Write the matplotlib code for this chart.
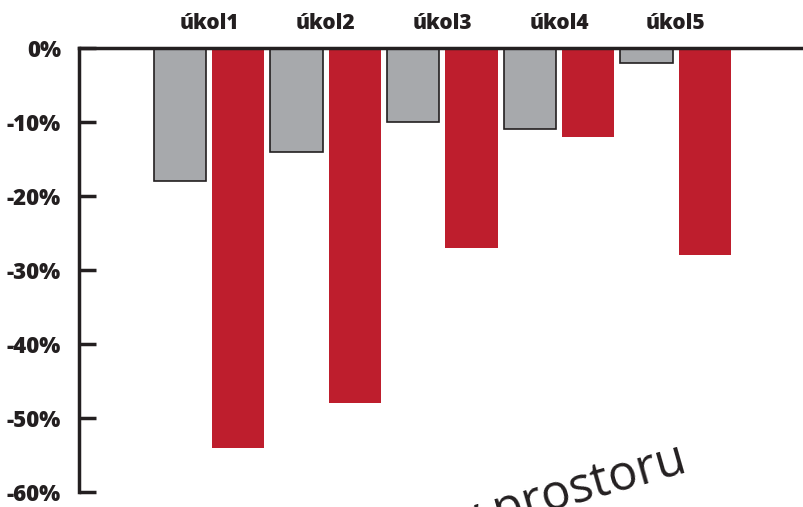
import matplotlib
matplotlib.use('Agg')
import matplotlib.pyplot as plt
import numpy as np

# hodnoty (v %)
ukoly = ['úkol1', 'úkol2', 'úkol3', 'úkol4', 'úkol5']
seda = [-18, -14, -10, -11, -2]
cervena = [-54, -48, -27, -12, -28]
y_ticky = [0, -10, -20, -30, -40, -50, -60]

tmava = '#231f20'
plt.rcParams['font.family'] = ['Open Sans', 'DejaVu Sans']

fig = plt.figure(figsize=(8.04, 5.07), dpi=100)
ax = fig.add_axes([79 / 804, 15 / 507, 1 - 79 / 804, 444 / 507])

x = np.arange(len(ukoly))
ax.bar(x - 0.25, seda, width=0.45, color='#a7a9ac', edgecolor=tmava, linewidth=1.2, zorder=2)
ax.bar(x + 0.25, cervena, width=0.45, color='#be1e2d', linewidth=0, zorder=2)

ax.set_xlim(-1.114, 5.10)
ax.set_ylim(-60, 0)

ax.set_yticks(y_ticky)
ax.set_yticklabels([f'{t}%' for t in y_ticky], fontsize=16, fontweight='heavy', color=tmava)
ax.tick_params(axis='y', direction='in', length=12, width=2.5, color=tmava, pad=13)

ax.xaxis.tick_top()
ax.set_xticks(x)
ax.set_xticklabels(ukoly, fontsize=15, fontweight='heavy', color=tmava)
ax.tick_params(axis='x', length=0, pad=10)

for s in ['right', 'bottom']:
    ax.spines[s].set_visible(False)
ax.spines['left'].set_linewidth(2.5)
ax.spines['left'].set_color(tmava)
ax.spines['top'].set_linewidth(2.5)
ax.spines['top'].set_color(tmava)
ax.spines['top'].set_zorder(3)

fig.text(689 / 804, 1 - 472 / 507, 'v prostoru', fontsize=35, color=tmava,
         rotation=16, rotation_mode='anchor', ha='right', va='baseline')

fig.savefig('out.png', dpi=100)
